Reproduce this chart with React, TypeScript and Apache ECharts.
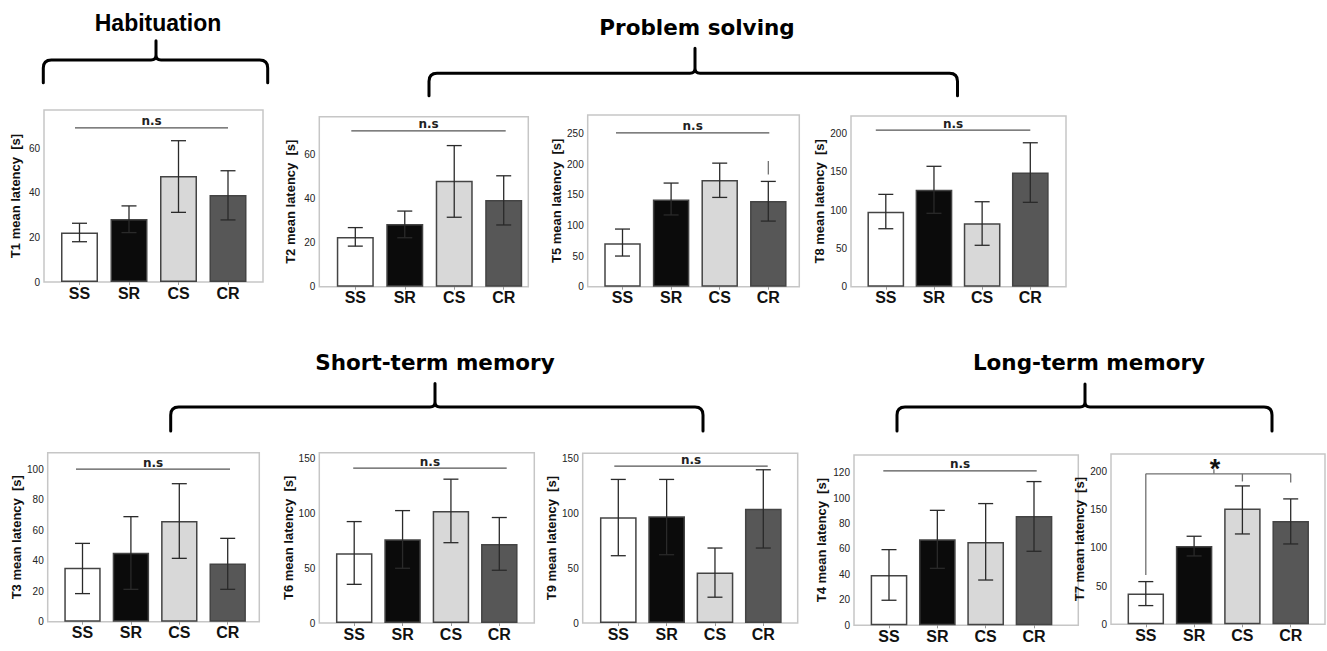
import React, { useEffect, useRef } from "react";
import * as echarts from "echarts";

// ---------------- DATA ----------------
const categories = ["SS", "SR", "CS", "CR"];

const t1Mean = [22.3, 28.3, 47.6, 39.1];
const t1Low = [18.1, 22.2, 31.3, 27.9];
const t1High = [26.4, 34.2, 63.5, 50.0];

const t2Mean = [22.5, 28.4, 48.0, 39.3];
const t2Low = [18.4, 22.2, 31.5, 28.0];
const t2High = [26.8, 34.3, 64.0, 50.3];

const t5Mean = [71, 142, 174, 139.6];
const t5Low = [50, 117, 145.6, 107];
const t5High = [94, 169, 201.5, 171.7];

const t8Mean = [97.8, 126.5, 82.6, 149];
const t8Low = [75.6, 95.7, 54, 110];
const t8High = [120.4, 157, 110.8, 187.7];

const t3Mean = [35.4, 45.2, 65.9, 38.2];
const t3Low = [18.4, 21.2, 41.5, 21.2];
const t3High = [51.3, 68.8, 90.4, 54.6];

const t6Mean = [63.5, 76.2, 102, 72];
const t6Low = [35.2, 49.8, 73.1, 48];
const t6High = [92.3, 102.3, 130.9, 96];

const t9Mean = [96.3, 97.3, 46, 104];
const t9Low = [61.3, 62.2, 23.5, 68.3];
const t9High = [130.8, 130.8, 68.3, 139.6];

const t4Mean = [39.6, 67.6, 65.5, 86];
const t4Low = [19.7, 44.8, 35.6, 58.2];
const t4High = [59.5, 90.4, 95.7, 113];

const t7Mean = [40.2, 102.6, 151.5, 135.4];
const t7Low = [24.5, 89.5, 118.3, 105.2];
const t7High = [55.9, 115.3, 181.2, 164.2];

const panelIds = ["T1", "T2", "T5", "T8", "T3", "T6", "T9", "T4", "T7"];
const axisNames = [
  "T1 mean latency  [s]",
  "T2 mean latency  [s]",
  "T5 mean latency  [s]",
  "T8 mean latency  [s]",
  "T3 mean latency  [s]",
  "T6 mean latency  [s]",
  "T9 mean latency  [s]",
  "T4 mean latency  [s]",
  "T7 mean latency  [s]",
];
const means = [t1Mean, t2Mean, t5Mean, t8Mean, t3Mean, t6Mean, t9Mean, t4Mean, t7Mean];
const lows = [t1Low, t2Low, t5Low, t8Low, t3Low, t6Low, t9Low, t4Low, t7Low];
const highs = [t1High, t2High, t5High, t8High, t3High, t6High, t9High, t4High, t7High];
const yAxisMax = [77.3, 77.1, 280, 222.6, 110.7, 155, 154.6, 133.9, 223];
const yAxisStep = [20, 20, 50, 50, 20, 50, 50, 20, 50];
const nsLevels: (number | null)[] = [69.3, 70.7, 251, 204.3, 100, 140.9, 143, 121.4, null];
const nsText = "n.s";

const t5Mark = [3, 183, 205]; // category index, from, to
const t7SigTop = 197;
const t7SigLegs: (number | null)[] = [64.6, null, 187, 185.6];
const t7SigTickTop = 203;
const t7SigStarLevel = 211;
const t7SigText = "*";

const groupTitles = ["Habituation", "Problem solving", "Short-term memory", "Long-term memory"];

// ---------------- LAYOUT ----------------
const barColors = ["#ffffff", "#0b0b0b", "#d8d8d8", "#575757"];

const layout = [
  { box: [44, 110, 263, 282], c: [79.5, 228], nameX: 15.3, nsPx: [-4.5, 0], barW: 37 },
  { box: [319.3, 116.7, 528.3, 286.7], c: [355.3, 503.7], nameX: 290, nsPx: [-4, 2], barW: 37 },
  { box: [587.7, 115, 799.3, 286.7], c: [622.5, 768.3], nameX: 556.7, nsPx: [-6.5, 1], barW: 36.5 },
  { box: [851, 116, 1066, 286.7], c: [885.8, 1030.3], nameX: 821.7, nsPx: [-10, 0], barW: 36.7 },
  { box: [47.7, 452.7, 259.3, 621.7], c: [82.5, 227.7], nameX: 20, nsPx: [-6.5, 2.3], barW: 36.4 },
  { box: [319.3, 452.7, 534.3, 623], c: [354.2, 499.3], nameX: 298, nsPx: [-1, 7.4], barW: 36.5 },
  { box: [582.7, 453.3, 797.7, 623], c: [618.3, 763.3], nameX: 561, nsPx: [-4, 4.4], barW: 36.7 },
  { box: [854, 455, 1078.3, 625.3], c: [889, 1034], nameX: 821.7, nsPx: [-5.7, 2.7], barW: 36.7 },
  { box: [1111, 454, 1325, 624.3], c: [1145.8, 1290.7], nameX: 1086, nsPx: [0, 0], barW: 36.5 },
];

const titleLayout = [
  { x: 158, y: 22.5, family: "'Liberation Sans', Arial, sans-serif", size: 23 },
  { x: 697, y: 27, family: "'DejaVu Sans', Verdana, sans-serif", size: 21.5 },
  { x: 435, y: 362, family: "'DejaVu Sans', Verdana, sans-serif", size: 21.5 },
  { x: 1089, y: 362, family: "'DejaVu Sans', Verdana, sans-serif", size: 21.5 },
];

// brace: x0, x1, xm, yTip, yH, yEnd
const braceLayout = [
  [43.3, 267.7, 156, 40.7, 60, 82.7],
  [429, 957.5, 695, 48.2, 73.2, 95.7],
  [170.7, 703, 435, 383.6, 407, 431],
  [897, 1272, 1085, 384, 407, 431],
];

function bracePath(x0: number, x1: number, xm: number, yTip: number, yH: number, yEnd: number) {
  const r = 8;
  const q = 5;
  return (
    `M${x0} ${yEnd}L${x0} ${yH + r}Q${x0} ${yH} ${x0 + r} ${yH}` +
    `L${xm - q} ${yH}Q${xm} ${yH} ${xm} ${yH - q}L${xm} ${yTip}` +
    `M${xm} ${yH - q}Q${xm} ${yH} ${xm + q} ${yH}` +
    `L${x1 - r} ${yH}Q${x1} ${yH} ${x1} ${yH + r}L${x1} ${yEnd}`
  );
}

const braceNames = ["braceHab", "braceProb", "braceShort", "braceLong"];
braceLayout.forEach((b, i) => {
  echarts.graphic.registerShape(
    braceNames[i],
    echarts.graphic.extendPath(bracePath(b[0], b[1], b[2], b[3], b[4], b[5]), {}) as any
  );
});

const tickFont = "'Liberation Sans', Arial, sans-serif";
const catFont = "'Liberation Sans', Arial, sans-serif";
const nameSize = 13;

function buildOption() {
  const grid: any[] = [];
  const xAxis: any[] = [];
  const yAxis: any[] = [];
  const series: any[] = [];
  const elements: any[] = [];

  panelIds.forEach((id, i) => {
    const L = layout[i];
    const [bx0, by0, bx1, by1] = L.box;
    const band = (L.c[1] - L.c[0]) / 3;
    const gl = L.c[0] - band / 2;
    grid.push({ left: gl, top: by0, width: band * 4, height: by1 - by0 });
    xAxis.push({
      type: "category",
      gridIndex: i,
      data: categories,
      boundaryGap: true,
      axisLine: { show: false },
      axisTick: { show: true, alignWithLabel: true, length: 3, lineStyle: { color: "#999", width: 1 } },
      axisLabel: {
        fontSize: 16,
        fontWeight: "bold",
        color: "#111",
        fontFamily: catFont,
        margin: 3,
      },
      splitLine: { show: false },
    });
    yAxis.push({
      type: "value",
      gridIndex: i,
      min: 0,
      max: yAxisMax[i],
      interval: yAxisStep[i],
      offset: gl - bx0,
      axisLine: { show: false },
      axisTick: { show: false },
      splitLine: { show: false },
      axisLabel: { showMaxLabel: false, fontSize: 10, color: "#222", margin: 4, fontFamily: tickFont },
      name: axisNames[i],
      nameLocation: "middle",
      nameGap: bx0 - L.nameX - nameSize / 2,
      nameTextStyle: { fontSize: nameSize, fontWeight: "bold", color: "#111", fontFamily: tickFont },
    });

    elements.push({
      type: "rect",
      silent: true,
      z: 0,
      shape: { x: bx0, y: by0, width: bx1 - bx0, height: by1 - by0 },
      style: { fill: "none", stroke: "#c6c6c6", lineWidth: 1.5 },
    });

    series.push({
      type: "bar",
      name: id,
      xAxisIndex: i,
      yAxisIndex: i,
      barWidth: L.barW,
      z: 2,
      data: means[i].map((v, j) => ({ value: v, itemStyle: { color: barColors[j] } })),
      itemStyle: { borderColor: "#444", borderWidth: 1.5 },
    });

    series.push({
      type: "custom",
      name: id + " error",
      xAxisIndex: i,
      yAxisIndex: i,
      z: 4,
      clip: false,
      encode: { x: 0, y: [1, 2] },
      data: means[i].map((_, j) => [j, lows[i][j], highs[i][j]]),
      renderItem: (params: any, api: any) => {
        const idx = api.value(0);
        const lo = api.coord([idx, api.value(1)]);
        const hi = api.coord([idx, api.value(2)]);
        const x = lo[0];
        const w = 7.5;
        const st = { stroke: "#2a2a2a", lineWidth: 1.3 };
        return {
          type: "group",
          children: [
            { type: "line", shape: { x1: x, y1: lo[1], x2: x, y2: hi[1] }, style: st },
            { type: "line", shape: { x1: x - w, y1: hi[1], x2: x + w, y2: hi[1] }, style: st },
            { type: "line", shape: { x1: x - w, y1: lo[1], x2: x + w, y2: lo[1] }, style: st },
          ],
        };
      },
    });

    const level = nsLevels[i];
    if (level != null) {
      series.push({
        type: "custom",
        name: id + " ns",
        xAxisIndex: i,
        yAxisIndex: i,
        z: 5,
        clip: false,
        encode: { x: 0, y: 1 },
        data: [[0, level]],
        renderItem: (params: any, api: any) => {
          const p0 = api.coord([0, api.value(1)]);
          const p3 = api.coord([3, api.value(1)]);
          const y = p0[1];
          const xs = p0[0] + L.nsPx[0];
          const xe = p3[0] + L.nsPx[1];
          const children: any[] = [
            { type: "line", shape: { x1: xs, y1: y, x2: xe, y2: y }, style: { stroke: "#555", lineWidth: 1.3 } },
            {
              type: "text",
              x: (xs + xe) / 2,
              y: y - 0.5,
              style: {
                text: nsText,
                fill: "#222",
                font: "bold 12px 'DejaVu Sans', Verdana, sans-serif",
                textAlign: "center",
                align: "center",
                textVerticalAlign: "bottom",
                verticalAlign: "bottom",
              },
            },
          ];
          if (id === "T5") {
            const m0 = api.coord([t5Mark[0], t5Mark[1]]);
            const m1 = api.coord([t5Mark[0], t5Mark[2]]);
            children.push({
              type: "line",
              shape: { x1: m0[0], y1: m0[1], x2: m1[0], y2: m1[1] },
              style: { stroke: "#666", lineWidth: 1.2 },
            });
          }
          return { type: "group", children };
        },
      });
    }

    if (id === "T7") {
      series.push({
        type: "custom",
        name: "T7 sig",
        xAxisIndex: i,
        yAxisIndex: i,
        z: 5,
        clip: false,
        encode: { x: 0, y: 1 },
        data: [[0, t7SigTop]],
        renderItem: (params: any, api: any) => {
          const top = api.value(1);
          const st = { stroke: "#707070", lineWidth: 1.3 };
          const children: any[] = [];
          const pS = api.coord([0, top]);
          const pE = api.coord([3, top]);
          children.push({ type: "line", shape: { x1: pS[0], y1: pS[1], x2: pE[0], y2: pE[1] }, style: st });
          t7SigLegs.forEach((leg, j) => {
            if (leg == null) return;
            const a = api.coord([j, top]);
            const b = api.coord([j, leg]);
            children.push({ type: "line", shape: { x1: a[0], y1: a[1], x2: b[0], y2: b[1] }, style: st });
          });
          const band = api.size([1, 0])[0];
          const tx = api.coord([1, top])[0] + band * 0.41;
          const tyTop = api.coord([1, t7SigTickTop])[1];
          children.push({ type: "line", shape: { x1: tx, y1: pS[1], x2: tx, y2: tyTop }, style: st });
          const sy = api.coord([1, t7SigStarLevel])[1];
          children.push({
            type: "text",
            x: tx + 1,
            y: sy + 6,
            style: {
              text: t7SigText,
              fill: "#111",
              font: "bold 27px 'Liberation Sans', Arial, sans-serif",
              textAlign: "center",
              align: "center",
              textVerticalAlign: "middle",
              verticalAlign: "middle",
            },
          });
          return { type: "group", children };
        },
      });
    }
  });

  groupTitles.forEach((t, i) => {
    const T = titleLayout[i];
    elements.push({
      type: "text",
      x: T.x,
      y: T.y,
      silent: true,
      style: {
        text: t,
        fill: "#000",
        font: `bold ${T.size}px ${T.family}`,
        textAlign: "center",
        align: "center",
        textVerticalAlign: "middle",
        verticalAlign: "middle",
      },
    });
  });

  braceNames.forEach((n) => {
    elements.push({
      type: n,
      x: 0,
      y: 0,
      silent: true,
      style: { fill: "none", stroke: "#000", lineWidth: 3, lineCap: "round", lineJoin: "round" },
    });
  });

  return {
    animation: false,
    backgroundColor: "#ffffff",
    grid,
    xAxis,
    yAxis,
    series,
    graphic: { elements },
  };
}

export default function App() {
  const ref = useRef<HTMLDivElement>(null);
  useEffect(() => {
    if (!ref.current) return;
    const chart = echarts.init(ref.current, null, { renderer: "svg" });
    chart.setOption(buildOption() as any);
    return () => chart.dispose();
  }, []);
  return (
    <div
      ref={ref}
      style={{ position: "absolute", left: 0, top: 0, width: 1327, height: 651, background: "#fff" }}
    />
  );
}
